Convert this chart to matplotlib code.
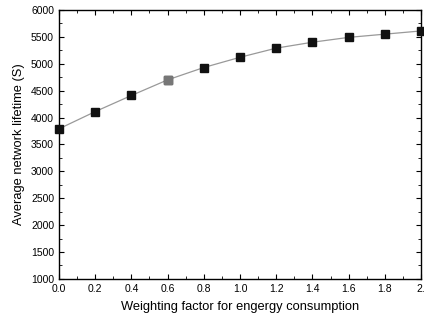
import matplotlib
matplotlib.use('Agg')
import matplotlib.pyplot as plt
from matplotlib.ticker import MultipleLocator

plt.rcParams['font.family'] = ['Liberation Sans', 'DejaVu Sans']

# weighting factor vs average network lifetime
weights = [0.0, 0.2, 0.4, 0.6, 0.8, 1.0, 1.2, 1.4, 1.6, 1.8, 2.0]
lifetime = [3790, 4110, 4410, 4700, 4930, 5120, 5290, 5400, 5490, 5550, 5610]

fig = plt.figure(figsize=(4.24, 3.21), dpi=100)
ax = fig.add_axes([0.139, 0.131, 0.854, 0.838])

ax.plot(weights, lifetime, color='#999999', linewidth=0.9, zorder=2)
ax.plot(weights, lifetime, linestyle='none', marker='s', markersize=5.3,
        color='#111111', clip_on=False, zorder=3)
ax.plot(weights[3], lifetime[3], linestyle='none', marker='s', markersize=5.3,
        color='#777777', clip_on=False, zorder=4)

ax.set_xlim(0.0, 2.0)
ax.set_ylim(1000, 6000)
ax.xaxis.set_minor_locator(MultipleLocator(0.1))
ax.yaxis.set_major_locator(MultipleLocator(500))
ax.yaxis.set_minor_locator(MultipleLocator(250))
ax.set_xticks(weights)
ax.set_xticklabels(['0.0', '0.2', '0.4', '0.6', '0.8', '1.0', '1.2', '1.4', '1.6', '1.8', '2.'])
ax.tick_params(which='both', direction='in', top=True, right=True, labelsize=7.5)
ax.tick_params(which='major', length=3.5, width=0.8)
ax.tick_params(which='minor', length=2, width=0.6)
for s in ax.spines.values():
    s.set_linewidth(1.0)

ax.set_xlabel('Weighting factor for engergy consumption', fontsize=9.3, labelpad=5)
ax.set_ylabel('Average network lifetime (S)', fontsize=9.3, labelpad=4)

fig.savefig('out.png', dpi=100)
